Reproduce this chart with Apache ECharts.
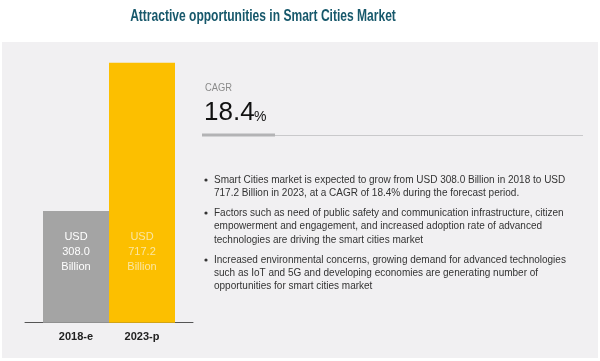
<!DOCTYPE html>
<html><head><meta charset="utf-8">
<script src="https://cdn.jsdelivr.net/npm/echarts@6/dist/echarts.min.js"></script>
<style>html,body{margin:0;padding:0;background:#fff}#c{width:600px;height:361px}</style>
</head><body><div id="c"></div>
<script>
const titleText = 'Attractive opportunities in Smart Cities Market';
const categories = ['2018-e', '2023-p'];
const values = [308.0, 717.2];
const barColors = ['#a4a4a4', '#fcbf00'];
const labelColors = ['#ffffff', '#fbe6a0'];
const cagrLabel = 'CAGR';
const cagrValue = '18.4';
const bullets = [
  ['Smart Cities market is expected to grow from USD 308.0 Billion in 2018 to USD',
   '717.2 Billion in 2023, at a CAGR of 18.4% during the forecast period.'],
  ['Factors such as need of public safety and communication infrastructure, citizen',
   'empowerment and engagement, and increased adoption rate of advanced',
   'technologies are driving the smart cities market'],
  ['Increased environmental concerns, growing demand for advanced technologies',
   'such as IoT and 5G and developing economies are generating number of',
   'opportunities for smart cities market']
];

const chart = echarts.init(document.getElementById('c'), null, {renderer: 'canvas'});
const FONT = "'Liberation Sans', Arial, sans-serif";

const graphics = [
  {type: 'rect', z: -10, shape: {x: 2, y: 42, width: 596, height: 316}, style: {fill: '#f1f0f2'}},
  {type: 'text', x: 263, y: 16, scaleX: 0.73, style: {text: titleText, fill: '#17586b', font: "bold 16.5px " + FONT, textAlign: 'center', textVerticalAlign: 'middle'}},
  {type: 'text', x: 205, y: 82, scaleX: 0.85, style: {text: cagrLabel, fill: '#8a8a8a', font: "11px " + FONT}},
  {type: 'text', x: 204, y: 100, style: {text: cagrValue, fill: '#111', font: "26px " + FONT}},
  {type: 'text', x: 254, y: 110, style: {text: '%', fill: '#111', font: "14px " + FONT}},
  {type: 'line', shape: {x1: 202, y1: 135.5, x2: 583, y2: 135.5}, style: {stroke: '#c9c9cb', lineWidth: 1}},
  {type: 'line', shape: {x1: 202, y1: 135, x2: 275, y2: 135}, style: {stroke: '#b3b3b5', lineWidth: 3}}
];
const lineStarts = [[180, 193], [213, 226, 240], [260, 273, 286]];
bullets.forEach((lines, i) => {
  graphics.push({type: 'circle', shape: {cx: 206, cy: lineStarts[i][0], r: 1.6}, style: {fill: '#333'}});
  lines.forEach((t, j) => {
    graphics.push({type: 'text', x: 214, y: lineStarts[i][j], style: {text: t, fill: '#333', font: "10px " + FONT, textVerticalAlign: 'middle'}});
  });
});

chart.setOption({
  backgroundColor: '#ffffff',
  animation: false,
  graphic: graphics,
  grid: [
    {left: 25, width: 168, top: 62.7, bottom: 38.3},
    {left: 43, width: 132, top: 62.7, bottom: 38.3}
  ],
  xAxis: [
    {type: 'category', gridIndex: 0, data: [''], axisLine: {lineStyle: {color: '#555', width: 1}}, axisTick: {show: false}, axisLabel: {show: false}},
    {type: 'category', gridIndex: 1, data: categories, axisLine: {show: false}, axisTick: {show: false},
     axisLabel: {margin: 9, color: '#222', fontSize: 11, fontWeight: 'bold', fontFamily: FONT}}
  ],
  yAxis: [
    {type: 'value', gridIndex: 0, show: false, min: 0, max: 1},
    {type: 'value', gridIndex: 1, show: false, min: 0, max: 717.2}
  ],
  series: [{
    type: 'bar', xAxisIndex: 1, yAxisIndex: 1, barCategoryGap: 0,
    data: values.map((v, i) => ({value: v, itemStyle: {color: barColors[i]}, label: {color: labelColors[i]}})),
    label: {
      show: true, position: 'insideBottom', distance: 48,
      formatter: p => 'USD\n' + p.value.toFixed(1) + '\nBillion',
      fontSize: 11, lineHeight: 15, fontFamily: FONT
    }
  }]
});
</script></body></html>
